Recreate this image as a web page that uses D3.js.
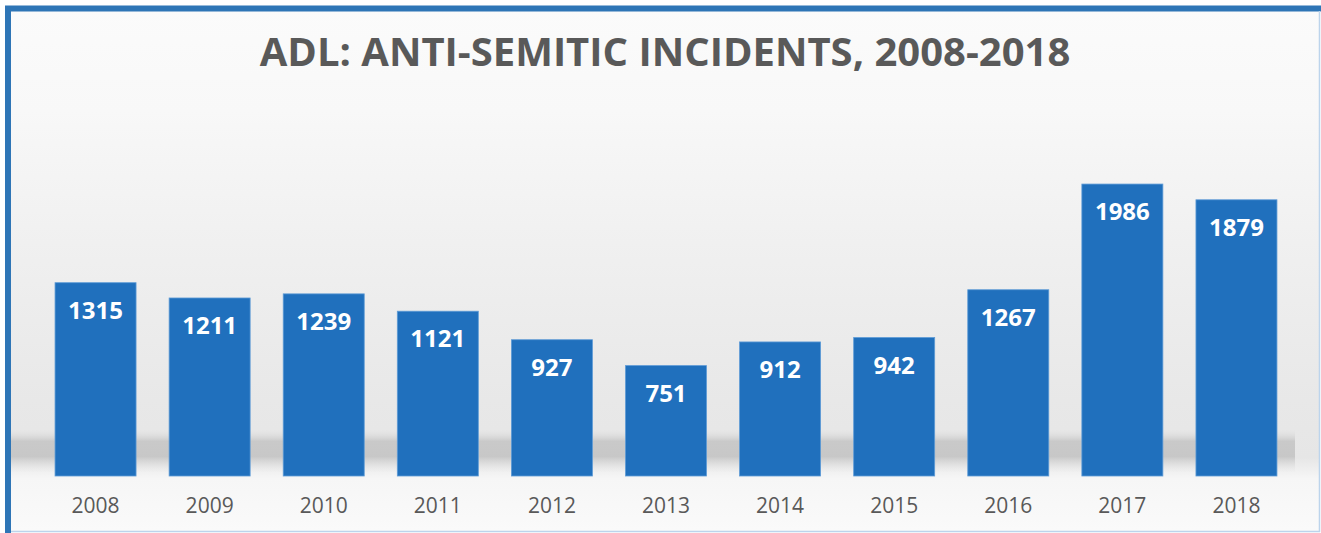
<!DOCTYPE html>
<html><head><meta charset="utf-8">
<script src="https://cdn.jsdelivr.net/npm/d3@7"></script>
<style>html,body{margin:0;padding:0;background:#fff;overflow:hidden}</style>
</head><body>
<svg id="c" width="1321" height="533"></svg>
<script>
const years = ["2008","2009","2010","2011","2012","2013","2014","2015","2016","2017","2018"];
const incidents = [1315,1211,1239,1121,927,751,912,942,1267,1986,1879];
const title = "ADL: ANTI-SEMITIC INCIDENTS, 2008-2018";

const svg = d3.select("#c");
const defs = svg.append("defs");
const bg = defs.append("linearGradient").attr("id","bg").attr("x1",0).attr("y1",0).attr("x2",0).attr("y2",1);
[[0,"#fbfbfb"],[0.2,"#f8f8f8"],[0.45,"#f0f0f0"],[0.75,"#e8e8e8"],[0.86,"#e6e6e6"],[0.9,"#f6f6f6"],[1,"#fafafa"]]
  .forEach(([o,c])=>bg.append("stop").attr("offset",o).attr("stop-color",c));
const sh = defs.append("linearGradient").attr("id","sh").attr("x1",0).attr("y1",0).attr("x2",0).attr("y2",1);
[[0,"#e8e8e8",0],[0.3,"#c6c6c6",0.9],[0.65,"#c4c4c4",0.9],[1,"#e6e6e6",0.1]]
  .forEach(([o,c,a])=>sh.append("stop").attr("offset",o).attr("stop-color",c).attr("stop-opacity",a));

// frame background
svg.append("rect").attr("x",5).attr("y",6).attr("width",1314).attr("height",525).attr("fill","url(#bg)");

const x = d3.scaleBand().domain(years).range([38.5,1293.5]).paddingInner(0.29).paddingOuter(0.145);
const y = d3.scaleLinear().domain([0,2000]).range([476,182]);

// floor shadow band
svg.append("rect").attr("x",11).attr("y",y(0)-48).attr("width",1284).attr("height",44).attr("fill","url(#sh)");

svg.append("g").selectAll("rect").data(years).join("rect")
  .attr("x",d=>x(d)).attr("width",x.bandwidth())
  .attr("y",(d,i)=>y(incidents[i])).attr("height",(d,i)=>y(0)-y(incidents[i]))
  .attr("fill","#2070bd").attr("stroke","#5e9bd6").attr("stroke-width",0.8);

svg.append("g").selectAll("text").data(years).join("text")
  .attr("x",d=>x(d)+x.bandwidth()/2).attr("y",(d,i)=>y(incidents[i])+36)
  .attr("text-anchor","middle").attr("font-family","Open Sans").attr("font-weight","bold")
  .attr("font-size",24).attr("fill","#fff").text((d,i)=>incidents[i]);

const ax = svg.append("g").attr("transform",`translate(0,${y(0)})`)
  .call(d3.axisBottom(x).tickSize(0).tickPadding(0));
ax.select(".domain").remove();
ax.selectAll("text").attr("dy",null).attr("y",37).attr("font-family","Open Sans").attr("font-size",21).attr("fill","#595959");

svg.append("text").attr("x",665).attr("y",66).attr("text-anchor","middle")
  .attr("font-family","Open Sans").attr("font-weight","bold").attr("font-size",40)
  .attr("fill","#595959").text(title);

// frame border
svg.append("path").attr("d","M8,533 L8,8.5 L1321,8.5").attr("fill","none").attr("stroke","#2e75b6").attr("stroke-width",6);
svg.append("path").attr("d","M1319.5,11 L1319.5,531.5 L11,531.5").attr("fill","none").attr("stroke","#bcd4ec").attr("stroke-width",1.5);
</script>
</body></html>
